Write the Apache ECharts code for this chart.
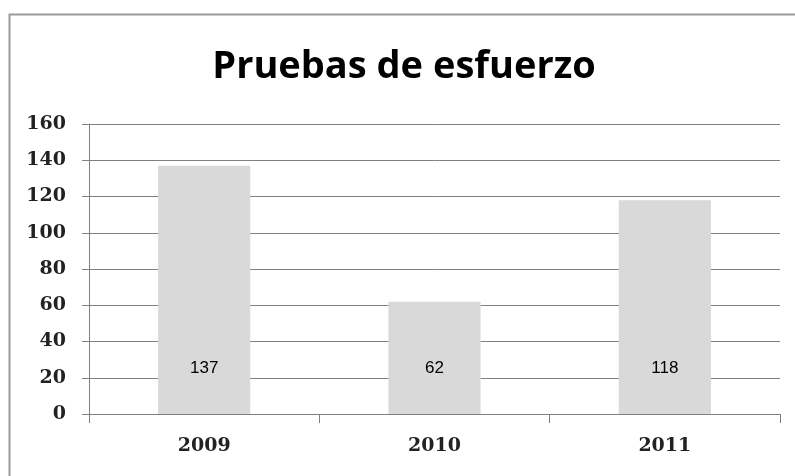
<!DOCTYPE html>
<html>
<head>
<meta charset="utf-8">
<script src="https://cdn.jsdelivr.net/npm/echarts@6/dist/echarts.min.js"></script>
<style>
  html, body { margin: 0; padding: 0; background: #fff; }
  #chart { width: 795px; height: 476px; }
</style>
</head>
<body>
<div id="chart"></div>
<script>
// Stress tests per year
const years = ['2009', '2010', '2011'];
const pruebas = [137, 62, 118];
const yTicks = { min: 0, max: 160, interval: 20 };

const chart = echarts.init(document.getElementById('chart'), null, { renderer: 'canvas' });

const lineColor = '#808080';
const axisFont = { fontFamily: 'DejaVu Serif', fontWeight: 'bold', fontSize: 19, color: '#222' };

chart.setOption({
  backgroundColor: '#ffffff',
  animation: false,
  graphic: [{
    type: 'rect',
    shape: { x: 9.5, y: 14.5, width: 900, height: 600 },
    style: { fill: 'none', stroke: '#9a9a9a', lineWidth: 2 },
    silent: true
  }],
  title: {
    text: 'Pruebas de esfuerzo',
    left: 399,
    top: 43,
    textAlign: 'center',
    textStyle: { fontFamily: 'Open Sans', fontWeight: 'bold', fontSize: 38, color: '#000' }
  },
  grid: { left: 89, right: 15, top: 124, bottom: 62, containLabel: false },
  xAxis: {
    type: 'category',
    data: years,
    axisLine: { show: true, lineStyle: { color: lineColor, width: 1 } },
    axisTick: { show: true, alignWithLabel: false, length: 9, lineStyle: { color: lineColor } },
    axisLabel: Object.assign({ margin: 23 }, axisFont),
    splitLine: { show: false }
  },
  yAxis: {
    type: 'value',
    min: yTicks.min,
    max: yTicks.max,
    interval: yTicks.interval,
    axisLine: { show: true, lineStyle: { color: lineColor, width: 1 } },
    axisTick: { show: true, length: 7, lineStyle: { color: lineColor } },
    axisLabel: Object.assign({ margin: 23 }, axisFont),
    splitLine: { show: true, lineStyle: { color: lineColor, width: 1 } }
  },
  series: [{
    type: 'bar',
    data: pruebas,
    barWidth: '40%',
    itemStyle: { color: '#d9d9d9' },
    label: {
      show: true,
      position: 'insideBottom',
      distance: 37,
      fontFamily: 'Liberation Sans',
      fontSize: 17,
      color: '#000'
    },
    z: 3
  }]
});
</script>
</body>
</html>
